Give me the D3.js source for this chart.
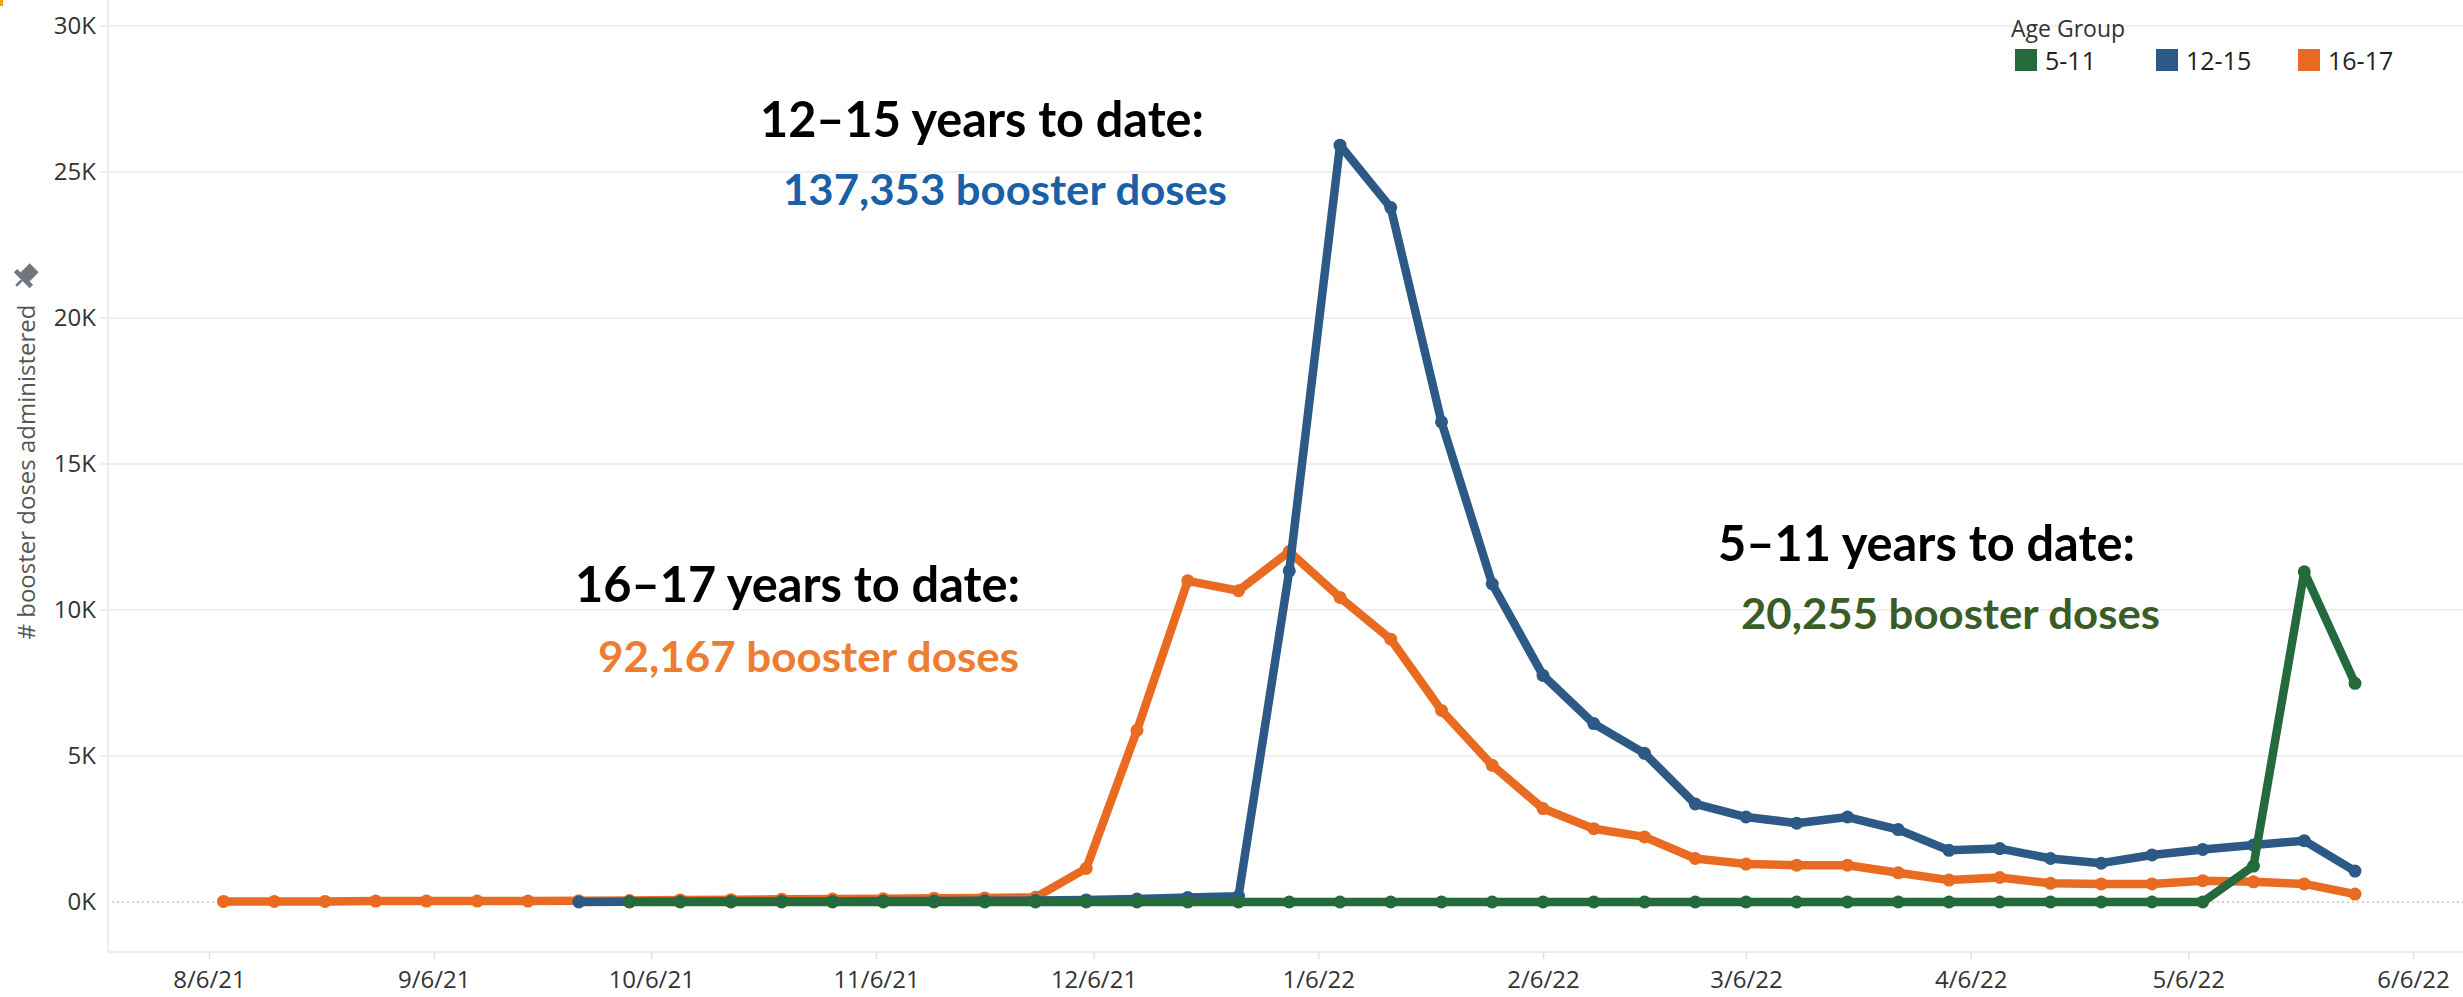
<!DOCTYPE html>
<html>
<head>
<meta charset="utf-8">
<script src="https://cdn.jsdelivr.net/npm/d3@7"></script>
<style>
  body { margin: 0; background: #fff; }
  svg { display: block; }
</style>
</head>
<body>
<div id="chart"></div>
<script>
// weekly points (Sundays), 16-17 starts first; others are null before they begin
const weekDates = [
    '8/8/21', '8/15/21', '8/22/21', '8/29/21', '9/5/21', '9/12/21', '9/19/21', '9/26/21',
    '10/3/21', '10/10/21', '10/17/21', '10/24/21', '10/31/21',
    '11/7/21', '11/14/21', '11/21/21', '11/28/21',
    '12/5/21', '12/12/21', '12/19/21', '12/26/21',
    '1/2/22', '1/9/22', '1/16/22', '1/23/22', '1/30/22',
    '2/6/22', '2/13/22', '2/20/22', '2/27/22',
    '3/6/22', '3/13/22', '3/20/22', '3/27/22',
    '4/3/22', '4/10/22', '4/17/22', '4/24/22',
    '5/1/22', '5/8/22', '5/15/22', '5/22/22', '5/29/22'
];

const doses16to17 = [
    20, 20, 20, 30, 30, 30, 30, 40,
    50, 70, 80, 90, 100,
    110, 130, 140, 160,
    1150, 5880, 11000, 10660,
    12000, 10430, 9000, 6560, 4680,
    3200, 2510, 2230, 1490,
    1300, 1260, 1260, 1000,
    750, 840, 640, 620,
    620, 730, 690, 620, 270
];

const doses12to15 = [
    null, null, null, null, null, null, null, 0,
    10, 10, 20, 20, 20,
    30, 30, 40, 50,
    70, 100, 150, 200,
    11340, 25920, 23780, 16440, 10890,
    7760, 6110, 5090, 3360,
    2910, 2700, 2910, 2480,
    1770, 1830, 1490, 1330,
    1610, 1800, 1950, 2100, 1060
];

const doses5to11 = [
    null, null, null, null, null, null, null, null,
    0, 0, 0, 0, 0,
    0, 0, 0, 0,
    0, 0, 0, 0,
    0, 0, 0, 0, 0,
    0, 0, 0, 0,
    0, 0, 0, 0,
    0, 0, 0, 0,
    0, 0, 1230, 11310, 7490
];

const ageGroups = ['5-11', '12-15', '16-17'];
const groupColors = ['#246a3d', '#2c5985', '#e96b22'];

const xTickLabels = ['8/6/21', '9/6/21', '10/6/21', '11/6/21', '12/6/21', '1/6/22',
    '2/6/22', '3/6/22', '4/6/22', '5/6/22', '6/6/22'];
const yTicks = [0, 5000, 10000, 15000, 20000, 25000, 30000];

const noteTitles = ['12\u201315 years to date:', '16\u201317 years to date:', '5\u201311 years to date:'];
const noteTotals = ['137,353 booster doses', '92,167 booster doses', '20,255 booster doses'];
const noteColors = ['#1a60a7', '#ed7d31', '#3a5c27'];

const W = 2463, H = 997;
const parse = d3.timeParse('%m/%d/%y');
const fmt = d3.timeFormat('%-m/%-d/%y');

const svg = d3.select('#chart')
    .append('svg')
    .attr('width', W)
    .attr('height', H)
    .style('font-family', '"Open Sans", sans-serif');

const x = d3.scaleTime()
    .domain([parse('8/6/21'), parse('6/6/22')])
    .range([209, 2413]);

const y = d3.scaleLinear()
    .domain([0, 30000])
    .range([902, 26]);

// little orange mark in the corner
svg.append('rect').attr('x', 0).attr('y', 0).attr('width', 3).attr('height', 6).attr('fill', '#f2a200');

// gridlines
svg.append('g')
    .selectAll('line')
    .data(yTicks.filter(d => d > 0))
    .enter()
    .append('line')
    .attr('x1', 100)
    .attr('x2', W)
    .attr('y1', d => y(d))
    .attr('y2', d => y(d))
    .attr('stroke', '#efefef')
    .attr('stroke-width', 2);

// zero line, dotted
svg.append('line')
    .attr('x1', 112).attr('x2', W)
    .attr('y1', y(0)).attr('y2', y(0))
    .attr('stroke', '#c4c4c4')
    .attr('stroke-width', 1.5)
    .attr('stroke-dasharray', '2,3');

// frame lines
svg.append('line')
    .attr('x1', 108).attr('x2', 108)
    .attr('y1', 0).attr('y2', 952)
    .attr('stroke', '#ececec').attr('stroke-width', 2);
svg.append('line')
    .attr('x1', 108).attr('x2', W)
    .attr('y1', 952).attr('y2', 952)
    .attr('stroke', '#ececec').attr('stroke-width', 2);

// y axis
const yAxis = d3.axisLeft(y)
    .tickValues(yTicks)
    .tickFormat(d => (d / 1000) + 'K')
    .tickSize(0)
    .tickPadding(12);

const gy = svg.append('g')
    .attr('transform', 'translate(108,0)')
    .call(yAxis);
gy.select('.domain').remove();
gy.selectAll('text')
    .attr('font-size', 24)
    .attr('fill', '#333')
    .style('font-family', '"Open Sans", sans-serif');

// x axis
const xAxis = d3.axisBottom(x)
    .tickValues(xTickLabels.map(parse))
    .tickFormat(fmt)
    .tickSize(7)
    .tickPadding(12);

const gx = svg.append('g')
    .attr('transform', 'translate(0,952)')
    .call(xAxis);
gx.select('.domain').remove();
gx.selectAll('line').attr('stroke', '#e0e0e0').attr('stroke-width', 1.5);
gx.selectAll('text')
    .attr('font-size', 24)
    .attr('fill', '#333')
    .style('font-family', '"Open Sans", sans-serif');

// series
const series = [
    { name: '16-17', values: doses16to17, color: groupColors[2] },
    { name: '12-15', values: doses12to15, color: groupColors[1] },
    { name: '5-11', values: doses5to11, color: groupColors[0] }
];

const line = d3.line()
    .defined(d => d.v != null)
    .x(d => x(d.date))
    .y(d => y(d.v));

series.forEach(s => {
    const pts = weekDates.map((w, i) => ({ date: parse(w), v: s.values[i] }));
    svg.append('path')
        .datum(pts)
        .attr('d', line)
        .attr('fill', 'none')
        .attr('stroke', s.color)
        .attr('stroke-width', 8.5)
        .attr('stroke-linejoin', 'round')
        .attr('stroke-linecap', 'round');
    svg.append('g')
        .selectAll('circle')
        .data(pts.filter(d => d.v != null))
        .enter()
        .append('circle')
        .attr('cx', d => x(d.date))
        .attr('cy', d => y(d.v))
        .attr('r', 6.5)
        .attr('fill', s.color);
});

// annotations
const notePos = [
    { x: 760, y: 137, x2: 783, y2: 205, w: 444, w2: 444 },
    { x: 575, y: 602, x2: 598, y2: 672, w: 445, w2: 421 },
    { x: 1718, y: 561, x2: 1741, y2: 629, w: 417, w2: 419 }
];

notePos.forEach((p, i) => {
    svg.append('text')
        .attr('x', p.x)
        .attr('y', p.y)
        .attr('font-size', 49)
        .attr('font-weight', 'bold')
        .attr('textLength', p.w)
        .attr('lengthAdjust', 'spacingAndGlyphs')
        .style('font-family', 'Lato, sans-serif')
        .attr('fill', '#000')
        .text(noteTitles[i]);
    svg.append('text')
        .attr('x', p.x2)
        .attr('y', p.y2)
        .attr('font-size', 42)
        .attr('font-weight', 'bold')
        .attr('textLength', p.w2)
        .attr('lengthAdjust', 'spacingAndGlyphs')
        .style('font-family', 'Lato, sans-serif')
        .attr('fill', noteColors[i])
        .text(noteTotals[i]);
});

// legend
svg.append('text')
    .attr('x', 2011)
    .attr('y', 37)
    .attr('font-size', 23)
    .attr('fill', '#333')
    .text('Age Group');

const legendX = [2015, 2156, 2298];
ageGroups.forEach((g, i) => {
    svg.append('rect')
        .attr('x', legendX[i])
        .attr('y', 49)
        .attr('width', 22)
        .attr('height', 22)
        .attr('fill', groupColors[i]);
    svg.append('text')
        .attr('x', legendX[i] + 30)
        .attr('y', 70)
        .attr('font-size', 25)
        .attr('fill', '#222')
        .text(g);
});

// y axis title with pin
svg.append('text')
    .attr('transform', 'translate(35,472) rotate(-90)')
    .attr('text-anchor', 'middle')
    .attr('font-size', 24)
    .attr('fill', '#555')
    .text('# booster doses administered');

const pin = svg.append('g')
    .attr('transform', 'translate(24,278) rotate(45) scale(1.6)')
    .attr('fill', '#6f7780');
pin.append('rect').attr('x', -4).attr('y', -9).attr('width', 8).attr('height', 9);
pin.append('rect').attr('x', -7).attr('y', -1).attr('width', 14).attr('height', 3);
pin.append('rect').attr('x', -0.8).attr('y', 2).attr('width', 1.6).attr('height', 5);
</script>
</body>
</html>
